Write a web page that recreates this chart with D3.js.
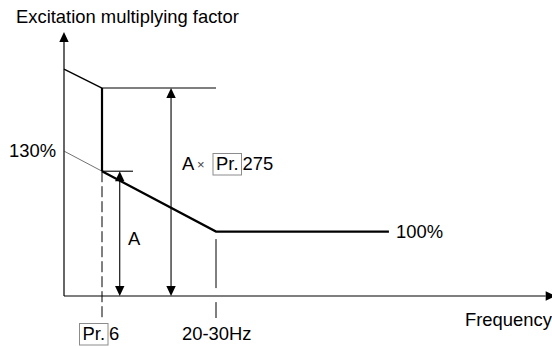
<!DOCTYPE html>
<html>
<head>
<meta charset="utf-8">
<script src="https://cdn.jsdelivr.net/npm/d3@7/dist/d3.min.js"></script>
<style>
  html, body { margin: 0; padding: 0; background: #fff; }
  svg { display: block; }
  text { font-family: "Liberation Sans", Arial, Helvetica, sans-serif; fill: #000; }
</style>
</head>
<body>
<div id="chart"></div>
<script>
// Frequency in Hz (schematic), excitation factor in %
const freqDomain = [0, 77];
const factorDomain = [76, 174];

const baseFreq = 6;          // Pr. 6
const cornerFreq = 24;       // 20-30Hz corner
const flatEndFreq = 51.3;

// Excitation curve without boost: 130% at 0 Hz falling to 100% at the corner
const extensionLine = [[0, 130], [baseFreq, 122.5]];
const excitationLine = [[baseFreq, 122.5], [cornerFreq, 100], [flatEndFreq, 100]];
// Boosted region below Pr. 6
const boostLine = [[0, 160.5], [baseFreq, 153.5]];
const boostStep = [[baseFreq, 153.5], [baseFreq, 122.5]];
const boostLevel = [[baseFreq, 153.5], [cornerFreq, 153.5]];
const refTick = [[baseFreq, 122.5], [10.9, 122.5]];

// Dimension arrows: [frequency, from factor, to factor]
const arrowA = [8.8, 76, 122.5];
const arrowBoost = [16.9, 76, 153.5];

// Guide lines below the curve
const guides = [
  { f: baseFreq, from: 122.5, to: 67.8, dash: "11,4" },
  { f: cornerFreq, from: 97.2, to: 67.8, dash: "49,14" }
];

const axisTitleY = "Excitation multiplying factor";
const axisTitleX = "Frequency";
const label130 = "130%";
const label100 = "100%";
const labelCorner = "20-30Hz";
const labelA = "A";
const paramBase = ["Pr.", "6"];
const paramBoost = ["Pr.", "275"];

const W = 552, H = 346;
const x = d3.scaleLinear().domain(freqDomain).range([64, 551.7]);
const y = d3.scaleLinear().domain(factorDomain).range([296, 33]);

const svg = d3.select("#chart").append("svg")
  .attr("width", W).attr("height", H);

const line = d3.line().x(d => x(d[0])).y(d => y(d[1]));

// Axes
const x0 = x(freqDomain[0]), yBase = y(factorDomain[0]);
svg.append("line").attr("x1", x0).attr("x2", x0).attr("y1", yBase).attr("y2", y(factorDomain[1]) + 8)
  .attr("stroke", "#000").attr("stroke-width", 1.2);
svg.append("line").attr("x1", x0).attr("x2", x(freqDomain[1]) - 6).attr("y1", yBase).attr("y2", yBase)
  .attr("stroke", "#000").attr("stroke-width", 1.2);

function head(px, py, dir) {
  // dir: "up", "down", "right"
  const w = 4.7, h = 10;
  let pts;
  if (dir === "up") pts = [[px, py], [px - w, py + h], [px + w, py + h]];
  else if (dir === "down") pts = [[px, py], [px - w, py - h], [px + w, py - h]];
  else pts = [[px, py], [px - h, py - w], [px - h, py + w]];
  svg.append("path").attr("d", "M" + pts.map(p => p.join(",")).join("L") + "Z").attr("fill", "#000");
}
head(x0, y(factorDomain[1]) - 1, "up");
head(x(freqDomain[1]) + 4, yBase, "right");

// Guide lines
guides.forEach(g => {
  svg.append("line")
    .attr("x1", x(g.f)).attr("x2", x(g.f))
    .attr("y1", y(g.from)).attr("y2", y(g.to))
    .attr("stroke", "#000").attr("stroke-width", 1)
    .attr("stroke-dasharray", g.dash);
});

// Curves
svg.append("path").attr("d", line(extensionLine)).attr("fill", "none")
  .attr("stroke", "#333").attr("stroke-width", 0.7);
svg.append("path").attr("d", line(boostLine)).attr("fill", "none")
  .attr("stroke", "#000").attr("stroke-width", 1.4);
svg.append("path").attr("d", line(boostLevel)).attr("fill", "none")
  .attr("stroke", "#000").attr("stroke-width", 1.1);
svg.append("path").attr("d", line(refTick)).attr("fill", "none")
  .attr("stroke", "#000").attr("stroke-width", 1.1);
svg.append("path").attr("d", line(boostStep)).attr("fill", "none")
  .attr("stroke", "#000").attr("stroke-width", 2.2);
svg.append("path").attr("d", line(excitationLine)).attr("fill", "none")
  .attr("stroke", "#000").attr("stroke-width", 2.2).attr("stroke-linejoin", "miter");

// Dimension arrows
[arrowA, arrowBoost].forEach(a => {
  const ax = x(a[0]);
  svg.append("line").attr("x1", ax).attr("x2", ax)
    .attr("y1", y(a[1]) - 8).attr("y2", y(a[2]) + 8)
    .attr("stroke", "#000").attr("stroke-width", 1.1);
  head(ax, y(a[2]), "up");
  head(ax, y(a[1]), "down");
});

// Text
const fs = 18.4;
function txt(s, tx, ty, anchor) {
  return svg.append("text").attr("x", tx).attr("y", ty)
    .attr("font-size", fs).attr("text-anchor", anchor || "start").text(s);
}
function boxed(s, tx, ty) {
  const t = txt(s, tx, ty);
  const b = t.node().getBBox();
  svg.insert("rect", "text")
    .attr("x", b.x - 3).attr("y", b.y + 0.5)
    .attr("width", b.width + 6).attr("height", b.height + 0.5)
    .attr("fill", "none").attr("stroke", "#8c8c8c").attr("stroke-width", 1);
  return b;
}

txt(axisTitleY, 16, 23);
txt(axisTitleX, 465, 326);
txt(label130, 56, 157, "end");
txt(label100, 396, 238);
txt(labelCorner, 182, 340);
txt(labelA, 128, 245);

// Pr. 6 below the axis
const b6 = boxed(paramBase[0], 82.5, 340);
txt(paramBase[1], b6.x + b6.width + 4, 340);

// A x Pr. 275
txt(labelA, 182, 170);
svg.append("text").attr("x", 197).attr("y", 169).attr("font-size", 13)
  .attr("fill", "#444").style("fill", "#444").text("\u00d7");
const b275 = boxed(paramBoost[0], 216, 170);
txt(paramBoost[1], b275.x + b275.width + 4, 170);
</script>
</body>
</html>
